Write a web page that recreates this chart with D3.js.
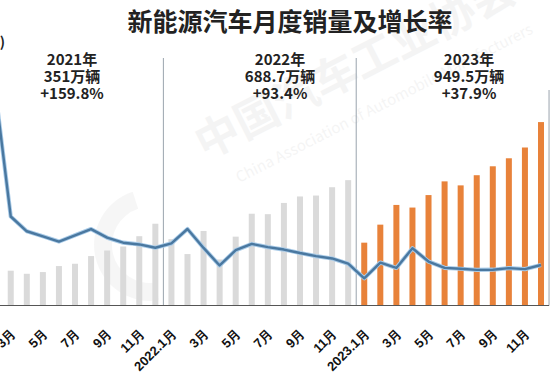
<!DOCTYPE html>
<html>
<head>
<meta charset="utf-8">
<script src="https://cdn.jsdelivr.net/npm/d3@7"></script>
<style>
  body { margin: 0; background: #fff; }
  svg { display: block; font-family: "Noto Sans CJK SC", "Noto Sans", sans-serif; }
  .tick text { font-weight: bold; font-size: 13px; fill: #111; }
  .year-note { font-weight: bold; font-size: 15px; fill: #222; }
</style>
</head>
<body>
<script>
const months = [
  "2021.1", "2021.2", "2021.3", "2021.4", "2021.5", "2021.6", "2021.7", "2021.8", "2021.9", "2021.10", "2021.11", "2021.12",
  "2022.1", "2022.2", "2022.3", "2022.4", "2022.5", "2022.6", "2022.7", "2022.8", "2022.9", "2022.10", "2022.11", "2022.12",
  "2023.1", "2023.2", "2023.3", "2023.4", "2023.5", "2023.6", "2023.7", "2023.8", "2023.9", "2023.10", "2023.11", "2023.12"
];

// monthly sales, 万辆
const sales2021 = [17.9, 11.0, 22.6, 20.6, 21.7, 25.6, 27.1, 32.1, 35.7, 38.3, 45.0, 53.1];
const sales2022 = [43.1, 33.4, 48.4, 29.9, 44.7, 59.6, 59.3, 66.6, 70.8, 71.4, 76.8, 81.4];
const sales2023 = [40.8, 52.5, 65.3, 63.6, 71.7, 80.6, 78.0, 84.6, 90.4, 95.6, 102.6, 119.1];

// year-on-year growth, %
const growth2021 = [285.8, 760, 238.9, 180.3, 160.1, 139.3, 164.4, 189, 155, 134.9, 128, 114.9];
const growth2022 = [132.2, 189.3, 114.2, 44.6, 105.2, 130, 117.3, 107.7, 93.9, 81.7, 72.3, 51.8];
const growth2023 = [-6.3, 55.9, 34.8, 112.8, 60.2, 35.2, 31.6, 27.0, 27.7, 33.9, 30.0, 46.4];

const tickMonths = ["2021.1", "2021.3", "2021.5", "2021.7", "2021.9", "2021.11",
  "2022.1", "2022.3", "2022.5", "2022.7", "2022.9", "2022.11",
  "2023.1", "2023.3", "2023.5", "2023.7", "2023.9", "2023.11"];
const tickLabels = ["2021.1月", "3月", "5月", "7月", "9月", "11月",
  "2022.1月", "3月", "5月", "7月", "9月", "11月",
  "2023.1月", "3月", "5月", "7月", "9月", "11月"];

const yearNames = ["2021年", "2022年", "2023年"];
const yearTotals = ["351万辆", "688.7万辆", "949.5万辆"];
const yearGrowth = ["+159.8%", "+93.4%", "+37.9%"];

const title = "新能源汽车月度销量及增长率";

const width = 550, height = 378;
const baseY = 305.5;

const sales = sales2021.concat(sales2022, sales2023);
const growth = growth2021.concat(growth2022, growth2023);
const rows = months.map((m, i) => ({ month: m, year: m.slice(0, 4), sales: sales[i], growth: growth[i] }));

const svg = d3.select("body").append("svg")
  .attr("width", width)
  .attr("height", height);

svg.append("rect").attr("width", width).attr("height", height).attr("fill", "#fff");

const x = d3.scalePoint().domain(months).range([-21.4, 541]);
const step = x.step();
const ySales = d3.scaleLinear().domain([0, 100]).range([baseY, baseY - 154]);
const yGrowth = d3.scaleLinear().domain([0, 600]).range([276.7, 125.5]);

// faint watermark
const wm = svg.append("g").attr("transform", "translate(205,160) rotate(-27)").attr("fill", "#000").attr("opacity", 0.04);
wm.append("text").attr("font-size", 44).attr("font-weight", "bold").text("中国汽车工业协会");
wm.append("text").attr("x", 20).attr("y", 36).attr("font-size", 15).text("China Association of Automobile Manufacturers");
svg.append("path")
  .attr("d", d3.arc()({ innerRadius: 38, outerRadius: 56, startAngle: -Math.PI * 1.05, endAngle: -Math.PI * 0.1 }))
  .attr("transform", "translate(150,245)")
  .attr("fill", "#000").attr("opacity", 0.035);

// bars
svg.append("g").selectAll("rect")
  .data(rows)
  .join("rect")
  .attr("x", d => x(d.month) - 3)
  .attr("y", d => ySales(d.sales))
  .attr("width", 6)
  .attr("height", d => baseY - ySales(d.sales))
  .attr("fill", d => d.year === "2023" ? "#e8823a" : "#dadada");

// year dividers
const dividers = [
  { x: (x("2021.12") + x("2022.1")) / 2, top: 58 },
  { x: (x("2022.12") + x("2023.1")) / 2, top: 58 },
  { x: x("2023.12") + step / 2, top: 90 }
];
svg.append("g").selectAll("line")
  .data(dividers)
  .join("line")
  .attr("x1", d => d.x).attr("x2", d => d.x)
  .attr("y1", d => d.top).attr("y2", baseY)
  .attr("stroke", "#9aa4ad")
  .attr("stroke-width", 1);

// baseline
svg.append("line")
  .attr("x1", 0).attr("x2", x("2023.12") + step / 2)
  .attr("y1", baseY).attr("y2", baseY)
  .attr("stroke", "#555").attr("stroke-width", 1);

// growth line
const line = d3.line().x(d => x(d.month)).y(d => yGrowth(d.growth));
svg.append("path").datum(rows)
  .attr("d", line)
  .attr("fill", "none")
  .attr("stroke", "#a9cbe8")
  .attr("stroke-width", 4.2)
  .attr("stroke-linejoin", "round");
svg.append("path").datum(rows)
  .attr("d", line)
  .attr("fill", "none")
  .attr("stroke", "#4a78a0")
  .attr("stroke-width", 2.4)
  .attr("stroke-linejoin", "round");

// x axis
const xAxis = d3.axisBottom(x)
  .tickValues(tickMonths)
  .tickFormat((d, i) => tickLabels[i])
  .tickSize(0);
const gx = svg.append("g").attr("transform", `translate(0,${baseY})`).call(xAxis);
gx.select(".domain").remove();
gx.selectAll(".tick text")
  .attr("text-anchor", "end")
  .attr("dy", null)
  .attr("y", 0)
  .attr("transform", "translate(5,29) rotate(-45)");

// title
svg.append("text")
  .attr("x", 290).attr("y", 31)
  .attr("text-anchor", "middle")
  .attr("font-size", 25)
  .attr("font-weight", "bold")
  .attr("fill", "#222")
  .text(title);

// unit label, cut by the left edge
svg.append("text")
  .attr("x", 5).attr("y", 47)
  .attr("text-anchor", "end")
  .attr("font-size", 14)
  .attr("font-weight", "bold")
  .attr("fill", "#222")
  .text("(万辆)");

// yearly notes
const noteX = [72, 280, 469];
yearNames.forEach((name, i) => {
  const t = svg.append("text").attr("class", "year-note").attr("text-anchor", "middle");
  t.append("tspan").attr("x", noteX[i]).attr("y", 65).text(name);
  t.append("tspan").attr("x", noteX[i]).attr("y", 82).text(yearTotals[i]);
  t.append("tspan").attr("x", noteX[i]).attr("y", 99).text(yearGrowth[i]);
});
</script>
</body>
</html>
